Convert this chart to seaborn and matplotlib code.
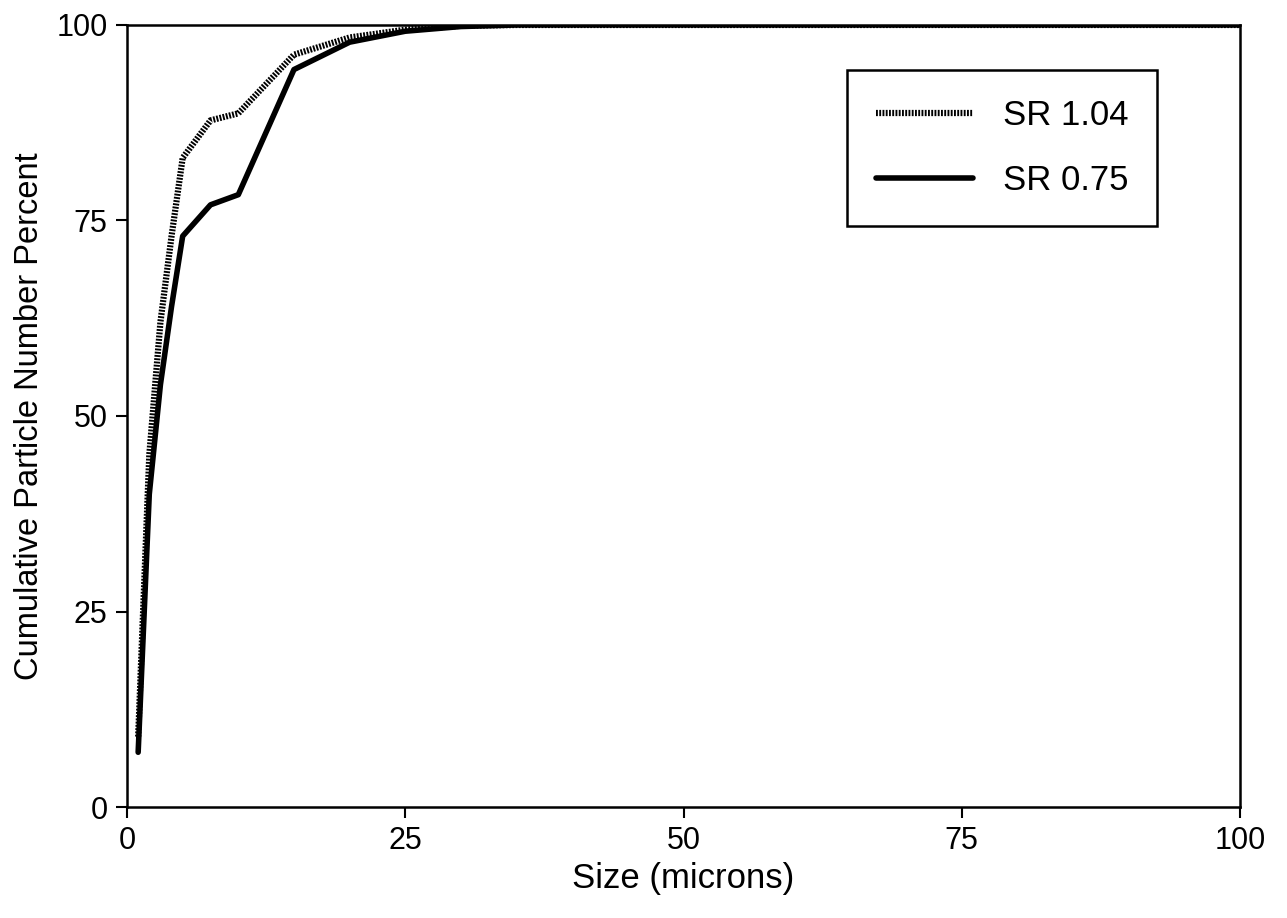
import matplotlib
matplotlib.use("Agg")
from matplotlib import pyplot as plt
import seaborn as sns
import pandas as pd

# size in microns vs cumulative particle number percent
size_104 = [1, 2, 3, 4, 5, 7.5, 10, 15, 20, 25, 30, 35, 100]
pct_104 = [9, 45, 62, 73, 83, 87.8, 88.7, 96.2, 98.4, 99.4, 99.9, 100, 100]

size_075 = [1, 2, 3, 4, 5, 7.5, 10, 15, 20, 25, 30, 35, 100]
pct_075 = [7, 40, 54, 64, 73, 77, 78.3, 94.3, 97.8, 99.2, 99.8, 100, 100]

series_labels = ["SR 1.04", "SR 0.75"]

sns.set_style("white")
plt.rcParams['font.family'] = ['Liberation Sans', 'DejaVu Sans']
plt.rcParams['text.color'] = 'black'
plt.rcParams['axes.labelcolor'] = 'black'
plt.rcParams['xtick.color'] = 'black'
plt.rcParams['ytick.color'] = 'black'

fig = plt.figure(figsize=(12.87, 9.18), dpi=100)
ax = fig.add_axes([0.0987, 0.1209, 0.8648, 0.8519])

df1 = pd.DataFrame({"size": size_104, "pct": pct_104})
df2 = pd.DataFrame({"size": size_075, "pct": pct_075})
sns.lineplot(data=df1, x="size", y="pct", ax=ax, color="black", lw=4.5,
             linestyle=(0, (0.3, 0.22)), label=series_labels[0])
sns.lineplot(data=df2, x="size", y="pct", ax=ax, color="black", lw=4,
             label=series_labels[1])

ax.set_xlim(0, 100)
ax.set_ylim(0, 100)
ax.set_xticks([0, 25, 50, 75, 100])
ax.set_yticks([0, 25, 50, 75, 100])
ax.tick_params(axis="both", direction="out", length=8, width=1.5,
               labelsize=22, left=True, bottom=True, pad=6)
for sp in ax.spines.values():
    sp.set_color("black")
    sp.set_linewidth(1.8)

ax.set_xlabel("Size (microns)", fontsize=25, labelpad=4)
ax.set_ylabel("Cumulative Particle Number Percent", fontsize=23.5, labelpad=8)

leg = ax.legend(loc="upper right", bbox_to_anchor=(0.9254, 0.9425), fontsize=25,
                frameon=True, fancybox=False, edgecolor="black", framealpha=1,
                handlelength=2.8, handletextpad=0.86, borderpad=0.83,
                labelspacing=0.94, borderaxespad=0)
leg.get_frame().set_linewidth(1.8)

fig.savefig("out.png", dpi=100)
